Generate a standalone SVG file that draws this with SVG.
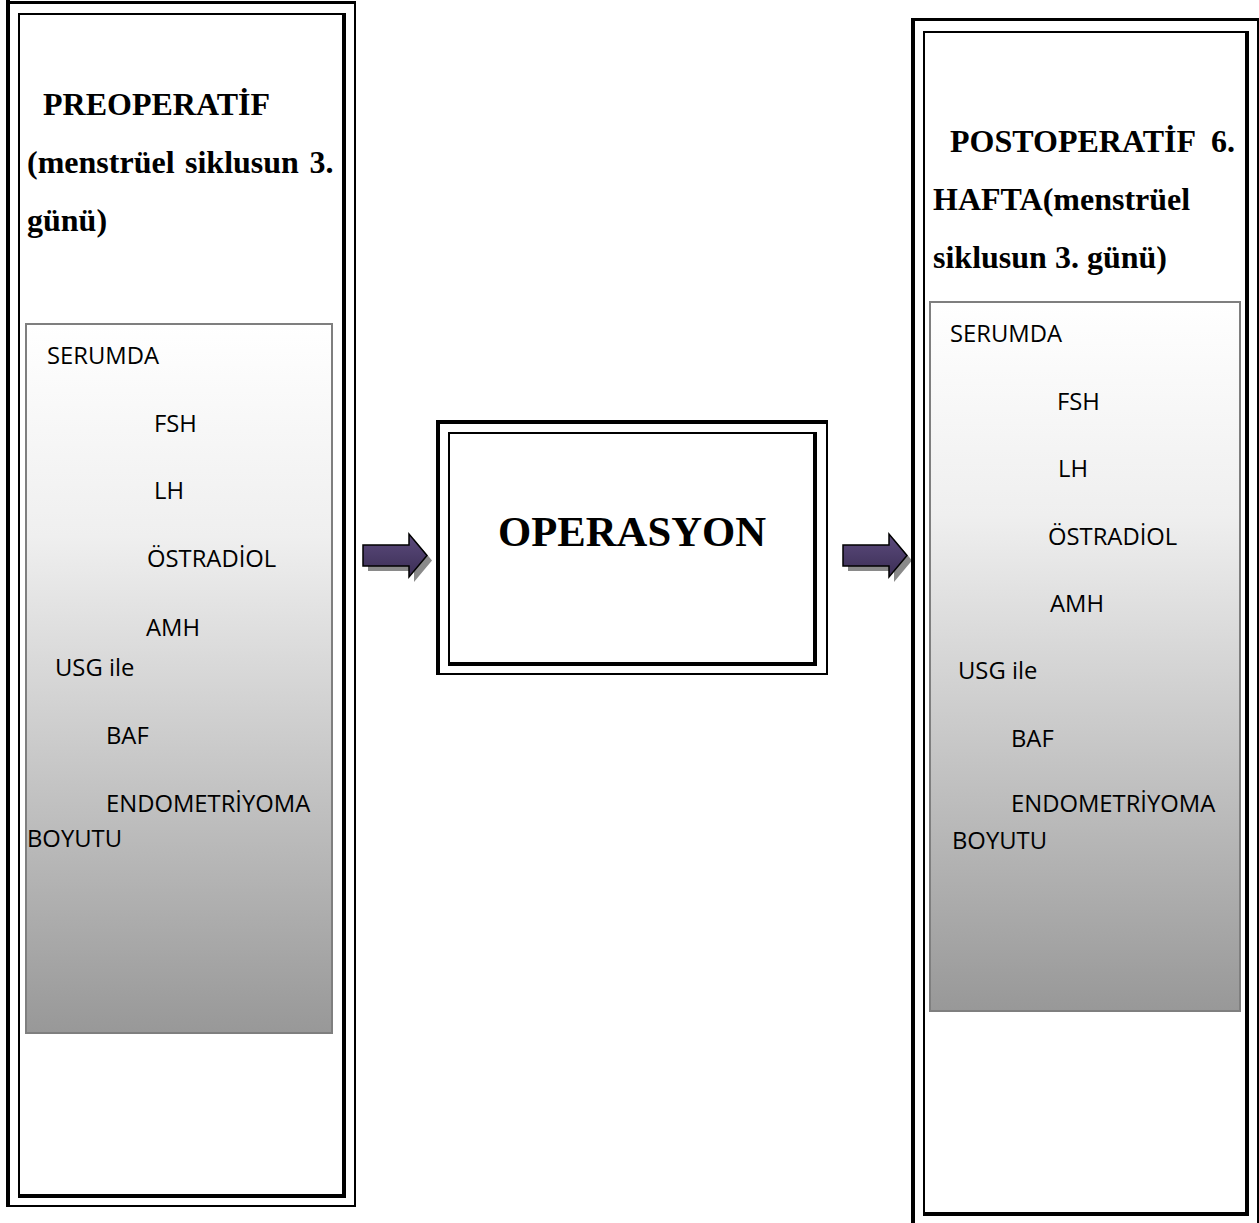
<svg xmlns="http://www.w3.org/2000/svg" width="1259" height="1223" viewBox="0 0 1259 1223">
<style>
.edge{fill:#000}
.hdr{font-family:"Liberation Serif","Times New Roman",serif;font-weight:bold;font-size:32px;fill:#000}
.op{font-family:"Liberation Serif","Times New Roman",serif;font-weight:bold;font-size:42.7px;fill:#000}
.lbl{font-family:"Open Sans","Noto Sans",sans-serif;font-size:23.8px;fill:#000}
.grad{fill:url(#gray);stroke:#7f7f7f;stroke-width:2}
</style>
<defs>
<linearGradient id="gray" x1="0" y1="0" x2="0" y2="1">
<stop offset="0" stop-color="#ffffff"/>
<stop offset="0.3" stop-color="#efefef"/>
<stop offset="0.6" stop-color="#cacaca"/>
<stop offset="1" stop-color="#989898"/>
</linearGradient>
<linearGradient id="purple" x1="0" y1="0" x2="0" y2="1">
<stop offset="0" stop-color="#5c4b7d"/>
<stop offset="1" stop-color="#3b2e55"/>
</linearGradient>
<path id="arrow" d="M0,11 H46 V0 L64,21.5 L46,43 V32 H0 Z"/>
</defs>
<rect width="1259" height="1223" fill="#fff"/>

<g id="connectors">
<g transform="translate(363,534)">
<use href="#arrow" transform="translate(5,5)" fill="#8a8a8a"/>
<use href="#arrow" fill="url(#purple)" stroke="#000" stroke-width="1.5"/>
</g>
<g transform="translate(843,534)">
<use href="#arrow" transform="translate(5,5)" fill="#8a8a8a"/>
<use href="#arrow" fill="url(#purple)" stroke="#000" stroke-width="1.5"/>
</g>
</g>

<g id="preop">
<rect class="edge" x="6" y="0" width="4" height="1207"/>
<rect class="edge" x="6" y="1" width="350" height="3"/>
<rect class="edge" x="354" y="1" width="2" height="1206"/>
<rect class="edge" x="6" y="1205" width="350" height="2"/>
<rect class="edge" x="18" y="13" width="2" height="1185"/>
<rect class="edge" x="18" y="13" width="328" height="2"/>
<rect class="edge" x="342" y="13" width="4" height="1185"/>
<rect class="edge" x="18" y="1194" width="328" height="4"/>
<text class="hdr" x="43" y="115">PREOPERATİF</text>
<text class="hdr" x="27" y="173" word-spacing="2.5">(menstrüel siklusun 3.</text>
<text class="hdr" x="27" y="231">günü)</text>
<rect class="grad" x="26" y="324" width="306" height="709"/>
<text class="lbl" x="47" y="364">SERUMDA</text>
<text class="lbl" x="154" y="432">FSH</text>
<text class="lbl" x="154" y="499">LH</text>
<text class="lbl" x="147" y="567">ÖSTRADİOL</text>
<text class="lbl" x="146" y="636">AMH</text>
<text class="lbl" x="55" y="676">USG ile</text>
<text class="lbl" x="106" y="744">BAF</text>
<text class="lbl" x="106" y="812">ENDOMETRİYOMA</text>
<text class="lbl" x="27" y="847">BOYUTU</text>
</g>

<g id="operasyon">
<rect class="edge" x="436" y="420" width="4" height="255"/>
<rect class="edge" x="436" y="420" width="392" height="4"/>
<rect class="edge" x="826" y="420" width="2" height="255"/>
<rect class="edge" x="436" y="673" width="392" height="2"/>
<rect class="edge" x="448" y="432" width="2" height="234"/>
<rect class="edge" x="448" y="432" width="369" height="2"/>
<rect class="edge" x="813" y="432" width="4" height="234"/>
<rect class="edge" x="448" y="662" width="369" height="4"/>
<text class="op" x="632" y="546" text-anchor="middle">OPERASYON</text>
</g>

<g id="postop">
<rect class="edge" x="911" y="18" width="4" height="1205"/>
<rect class="edge" x="911" y="18" width="348" height="3"/>
<rect class="edge" x="1257" y="18" width="2" height="1205"/>
<rect class="edge" x="923" y="31" width="2" height="1185"/>
<rect class="edge" x="923" y="31" width="326" height="2"/>
<rect class="edge" x="1245" y="31" width="4" height="1185"/>
<rect class="edge" x="923" y="1212" width="326" height="4"/>
<text class="hdr" x="950" y="152">POSTOPERATİF<tspan x="1211">6.</tspan></text>
<text class="hdr" x="933" y="210">HAFTA(menstrüel</text>
<text class="hdr" x="933" y="268">siklusun 3. günü)</text>
<rect class="grad" x="930" y="302" width="310" height="709"/>
<text class="lbl" x="950" y="342">SERUMDA</text>
<text class="lbl" x="1057" y="410">FSH</text>
<text class="lbl" x="1058" y="477">LH</text>
<text class="lbl" x="1048" y="545">ÖSTRADİOL</text>
<text class="lbl" x="1050" y="612">AMH</text>
<text class="lbl" x="958" y="679">USG ile</text>
<text class="lbl" x="1011" y="747">BAF</text>
<text class="lbl" x="1011" y="812">ENDOMETRİYOMA</text>
<text class="lbl" x="952" y="849">BOYUTU</text>
</g>
</svg>
